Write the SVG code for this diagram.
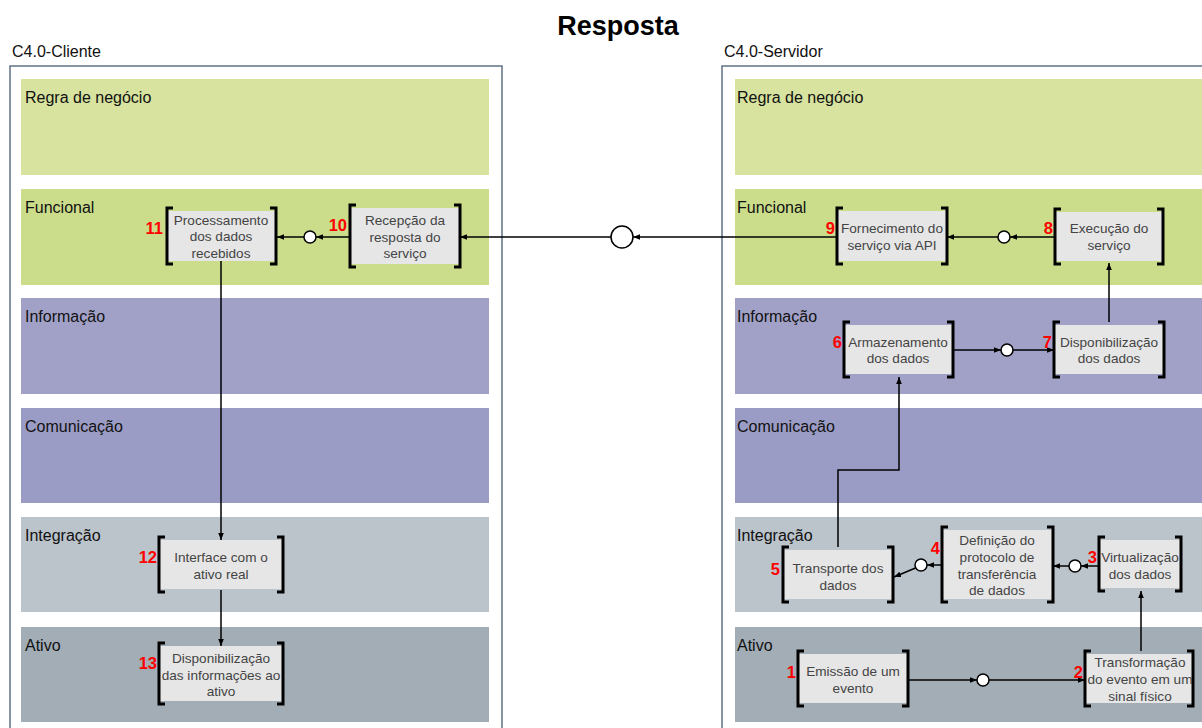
<svg xmlns="http://www.w3.org/2000/svg" width="1202" height="728" viewBox="0 0 1202 728">
<style>
text{font-family:"Liberation Sans",Arial,sans-serif}
.title{font-size:27px;font-weight:bold;fill:#000}
.cont{font-size:16px;fill:#111}
.band{font-size:16px;fill:#111}
.nt{font-size:13.6px;fill:#444;text-anchor:middle}
.num{font-size:16.5px;font-weight:bold;fill:#f00;text-anchor:end}
.box{fill:#e6e6e6}
.br{fill:none;stroke:#000;stroke-width:3}
.ln{fill:none;stroke:#000;stroke-width:1.5}
.circ{fill:#fff;stroke:#000;stroke-width:1.5}
.container{fill:#fff;stroke:#5f7285;stroke-width:1.5}
</style>
<defs>
<marker id="ah" viewBox="0 0 10 10" refX="10" refY="5" markerWidth="7" markerHeight="7" markerUnits="userSpaceOnUse" orient="auto">
<path d="M0,1 L10,5 L0,9 Z" fill="#000"/>
</marker>
</defs>
<rect width="1202" height="728" fill="#fff"/>
<text class="title" x="618" y="35" text-anchor="middle">Resposta</text>

<g id="cliente">
<text class="cont" x="12" y="57">C4.0-Cliente</text>
<rect class="container" x="10" y="66" width="492" height="680"/>
<rect x="21" y="79" width="468" height="96" fill="#d7e39e"/>
<rect x="21" y="189" width="468" height="96" fill="#cbdd8b"/>
<rect x="21" y="298" width="468" height="96" fill="#a1a1c7"/>
<rect x="21" y="408" width="468" height="95" fill="#9b9cc5"/>
<rect x="21" y="517" width="468" height="95" fill="#bbc3cb"/>
<rect x="21" y="627" width="468" height="95" fill="#a2adb5"/>
<text class="band" x="25" y="103">Regra de negócio</text>
<text class="band" x="25" y="213">Funcional</text>
<text class="band" x="25" y="322">Informação</text>
<text class="band" x="25" y="432">Comunicação</text>
<text class="band" x="25" y="541">Integração</text>
<text class="band" x="25" y="651">Ativo</text>
</g>

<g id="servidor">
<text class="cont" x="724" y="57">C4.0-Servidor</text>
<rect class="container" x="722" y="66" width="500" height="680"/>
<rect x="735" y="79" width="480" height="96" fill="#d7e39e"/>
<rect x="735" y="189" width="480" height="96" fill="#cbdd8b"/>
<rect x="735" y="298" width="480" height="96" fill="#a1a1c7"/>
<rect x="735" y="408" width="480" height="95" fill="#9b9cc5"/>
<rect x="735" y="517" width="480" height="95" fill="#bbc3cb"/>
<rect x="735" y="627" width="480" height="95" fill="#a2adb5"/>
<text class="band" x="737" y="103">Regra de negócio</text>
<text class="band" x="737" y="213">Funcional</text>
<text class="band" x="737" y="322">Informação</text>
<text class="band" x="737" y="432">Comunicação</text>
<text class="band" x="737" y="541">Integração</text>
<text class="band" x="737" y="651">Ativo</text>
</g>

<g id="connectors">
<line class="ln" x1="908" y1="680" x2="977" y2="680" marker-end="url(#ah)"/>
<line class="ln" x1="989" y1="680" x2="1085" y2="680" marker-end="url(#ah)"/>
<line class="ln" x1="1141" y1="651" x2="1141" y2="591" marker-end="url(#ah)"/>
<line class="ln" x1="1099" y1="566" x2="1081" y2="566" marker-end="url(#ah)"/>
<line class="ln" x1="1069" y1="566" x2="1053" y2="566" marker-end="url(#ah)"/>
<line class="ln" x1="942" y1="565" x2="927" y2="565" marker-end="url(#ah)"/>
<line class="ln" x1="915.5" y1="568" x2="894" y2="577" marker-end="url(#ah)"/>
<path class="ln" d="M838,547 V470 H899 V377" marker-end="url(#ah)"/>
<line class="ln" x1="953" y1="350" x2="1001" y2="350" marker-end="url(#ah)"/>
<line class="ln" x1="1013" y1="350" x2="1054" y2="350" marker-end="url(#ah)"/>
<line class="ln" x1="1109" y1="322" x2="1109" y2="263" marker-end="url(#ah)"/>
<line class="ln" x1="1055" y1="237" x2="1010" y2="237" marker-end="url(#ah)"/>
<line class="ln" x1="998" y1="237" x2="947" y2="237" marker-end="url(#ah)"/>
<line class="ln" x1="837" y1="237" x2="633" y2="237" marker-end="url(#ah)"/>
<line class="ln" x1="611" y1="237" x2="460" y2="237" marker-end="url(#ah)"/>
<line class="ln" x1="350" y1="237" x2="316" y2="237" marker-end="url(#ah)"/>
<line class="ln" x1="304" y1="237" x2="277" y2="237" marker-end="url(#ah)"/>
<line class="ln" x1="221" y1="261" x2="221" y2="540" marker-end="url(#ah)"/>
<line class="ln" x1="221" y1="590" x2="221" y2="646" marker-end="url(#ah)"/>
<circle class="circ" cx="622" cy="237" r="11"/>
<circle class="circ" cx="310" cy="237" r="6"/>
<circle class="circ" cx="1004" cy="237" r="6"/>
<circle class="circ" cx="1007" cy="350" r="6"/>
<circle class="circ" cx="921" cy="565" r="6"/>
<circle class="circ" cx="1075" cy="566" r="6"/>
<circle class="circ" cx="983" cy="680" r="6"/>
</g>

<g id="n11">
<rect class="box" x="167" y="211" width="109" height="50"/>
<path class="br" d="M173,208 H167 V264 H173 M270,208 H276 V264 H270"/>
<text class="nt" x="221" y="225">Processamento</text>
<text class="nt" x="221" y="241">dos dados</text>
<text class="nt" x="221" y="258">recebidos</text>
<text class="num" x="163" y="234">11</text>
</g>
<g id="n10">
<rect class="box" x="350" y="208" width="110" height="56"/>
<path class="br" d="M356,205 H350 V267 H356 M454,205 H460 V267 H454"/>
<text class="nt" x="405" y="225">Recepção da</text>
<text class="nt" x="405" y="242">resposta do</text>
<text class="nt" x="405" y="258">serviço</text>
<text class="num" x="347" y="231">10</text>
</g>
<g id="n12">
<rect class="box" x="159" y="540" width="124" height="49"/>
<path class="br" d="M165,537 H159 V592 H165 M277,537 H283 V592 H277"/>
<text class="nt" x="221" y="562">Interface com o</text>
<text class="nt" x="221" y="579">ativo real</text>
<text class="num" x="157" y="563">12</text>
</g>
<g id="n13">
<rect class="box" x="159" y="646" width="124" height="55"/>
<path class="br" d="M165,643 H159 V704 H165 M277,643 H283 V704 H277"/>
<text class="nt" x="221" y="663">Disponibilização</text>
<text class="nt" x="221" y="680">das informações ao</text>
<text class="nt" x="221" y="696">ativo</text>
<text class="num" x="157" y="669">13</text>
</g>
<g id="n9">
<rect class="box" x="837" y="211" width="110" height="50"/>
<path class="br" d="M843,208 H837 V264 H843 M941,208 H947 V264 H941"/>
<text class="nt" x="892" y="233">Fornecimento do</text>
<text class="nt" x="892" y="250">serviço via API</text>
<text class="num" x="835" y="234">9</text>
</g>
<g id="n8">
<rect class="box" x="1055" y="212" width="108" height="49"/>
<path class="br" d="M1061,209 H1055 V264 H1061 M1157,209 H1163 V264 H1157"/>
<text class="nt" x="1109" y="233">Execução do</text>
<text class="nt" x="1109" y="250">serviço</text>
<text class="num" x="1053" y="234">8</text>
</g>
<g id="n6">
<rect class="box" x="844" y="325" width="109" height="49"/>
<path class="br" d="M850,322 H844 V377 H850 M947,322 H953 V377 H947"/>
<text class="nt" x="898" y="347">Armazenamento</text>
<text class="nt" x="898" y="363">dos dados</text>
<text class="num" x="842" y="348">6</text>
</g>
<g id="n7">
<rect class="box" x="1054" y="325" width="110" height="49"/>
<path class="br" d="M1060,322 H1054 V377 H1060 M1158,322 H1164 V377 H1158"/>
<text class="nt" x="1109" y="347">Disponibilização</text>
<text class="nt" x="1109" y="363">dos dados</text>
<text class="num" x="1052" y="348">7</text>
</g>
<g id="n5">
<rect class="box" x="783" y="550" width="110" height="49"/>
<path class="br" d="M789,547 H783 V602 H789 M887,547 H893 V602 H887"/>
<text class="nt" x="838" y="573">Transporte dos</text>
<text class="nt" x="838" y="590">dados</text>
<text class="num" x="780" y="575">5</text>
</g>
<g id="n4">
<rect class="box" x="942" y="530" width="111" height="69"/>
<path class="br" d="M948,527 H942 V602 H948 M1047,527 H1053 V602 H1047"/>
<text class="nt" x="997" y="545">Definição do</text>
<text class="nt" x="997" y="562">protocolo de</text>
<text class="nt" x="997" y="579">transferência</text>
<text class="nt" x="997" y="595">de dados</text>
<text class="num" x="940" y="554">4</text>
</g>
<g id="n3">
<rect class="box" x="1099" y="540" width="82" height="48"/>
<path class="br" d="M1105,537 H1099 V591 H1105 M1175,537 H1181 V591 H1175"/>
<text class="nt" x="1140" y="562">Virtualização</text>
<text class="nt" x="1140" y="579">dos dados</text>
<text class="num" x="1097" y="563">3</text>
</g>
<g id="n1">
<rect class="box" x="798" y="654" width="110" height="49"/>
<path class="br" d="M804,651 H798 V706 H804 M902,651 H908 V706 H902"/>
<text class="nt" x="853" y="676">Emissão de um</text>
<text class="nt" x="853" y="693">evento</text>
<text class="num" x="796" y="678">1</text>
</g>
<g id="n2">
<rect class="box" x="1085" y="654" width="108" height="49"/>
<path class="br" d="M1091,651 H1085 V706 H1091 M1187,651 H1193 V706 H1187"/>
<text class="nt" x="1140" y="667">Transformação</text>
<text class="nt" x="1140" y="684">do evento em um</text>
<text class="nt" x="1140" y="701">sinal físico</text>
<text class="num" x="1083" y="678">2</text>
</g>
</svg>
